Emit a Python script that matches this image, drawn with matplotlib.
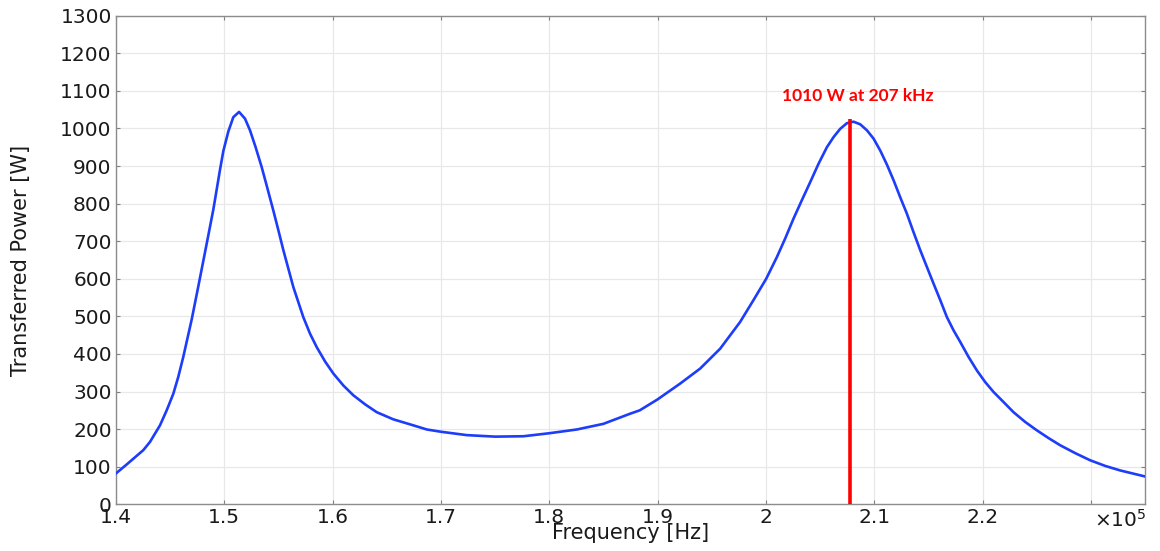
# plot.py — transferred power vs frequency, with peak marker

import numpy as np
import matplotlib
matplotlib.use("Agg")
import matplotlib.pyplot as plt

# Frequency sweep [Hz] and transferred power [W]
freq_hz = np.array([
    140000, 141000, 142530, 143150, 144070, 144690, 145300, 145760, 146220,
    147000, 147610, 148380, 149000, 149610, 149920, 150380, 150840, 151370,
    151920, 152380, 152900, 153460, 153920, 154530, 155000, 155460, 155920,
    156380, 156840, 157300, 157920, 158540, 159310, 160070, 161000, 161920,
    163000, 164080, 165610, 167460, 168700, 170000, 172390, 175000, 177620,
    180000, 182550, 185000, 187470, 188360, 190000, 192080, 193930, 195780,
    197620, 198850, 200030, 201020, 201780, 202550, 203320, 204090, 204860,
    205630, 206250, 206860, 207480, 208090, 208710, 209330, 209940, 210560,
    211170, 211790, 212400, 213020, 213630, 214250, 214870, 215480, 216100,
    216710, 217320, 217940, 218710, 219480, 220250, 221010, 221940, 222860,
    223940, 225000, 226100, 227170, 228560, 229940, 231330, 232710, 235000,
])
power_w = np.array([
    82, 106, 144, 166, 210, 250, 294, 339, 392,
    492, 580, 693, 785, 890, 940, 992, 1030, 1044,
    1026, 995, 950, 897, 848, 782, 729, 676, 627,
    578, 538, 498, 454, 418, 380, 348, 316, 290,
    266, 245, 226, 210, 199, 193, 184, 180, 181,
    189, 199, 214, 241, 250, 279, 321, 361, 414,
    485, 543, 600, 658, 707, 760, 809, 857, 906,
    950, 977, 999, 1014, 1018, 1011, 995, 973, 941,
    904, 862, 817, 773, 724, 676, 631, 587, 543,
    498, 463, 432, 392, 356, 325, 299, 272, 245,
    219, 197, 176, 157, 136, 117, 102, 90, 74,
])

# Marked resonance
marker_freq_hz = 207720
marker_top_w = 1025
marker_label = "1010 W at 207 kHz"
label_pos = (208500, 1087)

x_ticks = [1.4, 1.5, 1.6, 1.7, 1.8, 1.9, 2.0, 2.1, 2.2, 2.3]
x_ticklabels = ["1.4", "1.5", "1.6", "1.7", "1.8", "1.9", "2", "2.1", "2.2", ""]
y_ticks = list(range(0, 1301, 100))

SCALE = 1e5

fig = plt.figure(figsize=(11.6, 5.51), dpi=100)
ax = fig.add_axes([0.0999, 0.0848, 0.8872, 0.8867])

ax.plot(freq_hz / SCALE, power_w, color="#1d3dfa", lw=1.9,
        solid_joinstyle="round", zorder=3)
ax.plot([marker_freq_hz / SCALE] * 2, [0, marker_top_w], color="#ff0000",
        lw=2.6, zorder=4, solid_capstyle="butt")
ax.text(label_pos[0] / SCALE, label_pos[1], marker_label, color="#ff0000",
        fontsize=12.5, fontweight="bold", family=["Lato", "DejaVu Sans"],
        ha="center", va="center", zorder=5)

ax.set_xlim(1.4, 2.35)
ax.set_ylim(0, 1300)
ax.set_xticks(x_ticks)
ax.set_xticklabels(x_ticklabels)
ax.set_yticks(y_ticks)
ax.tick_params(axis="both", which="major", direction="in", length=3,
               width=0.8, color="#808080", labelsize=14.5, pad=3,
               labelcolor="#1a1a1a", top=True, right=True)
ax.grid(True, color="#e8e8e8", lw=0.9, zorder=0)
for sp in ax.spines.values():
    sp.set_color("#8c8c8c")
    sp.set_linewidth(1.0)

# multiplier shown in place of the 2.3 tick label
ax.annotate(r"$\times10^5$", xy=(1.0, 0.0), xycoords="axes fraction",
            xytext=(1, -3), textcoords="offset points", ha="right", va="top",
            fontsize=14.5, color="#1a1a1a")

ax.set_xlabel("Frequency [Hz]", fontsize=15, labelpad=-3, color="#1a1a1a")
ax.set_ylabel("Transferred Power [W]", fontsize=15, color="#1a1a1a")
ax.yaxis.set_label_coords(-0.082, 0.5)

fig.savefig("out.png", dpi=100)
